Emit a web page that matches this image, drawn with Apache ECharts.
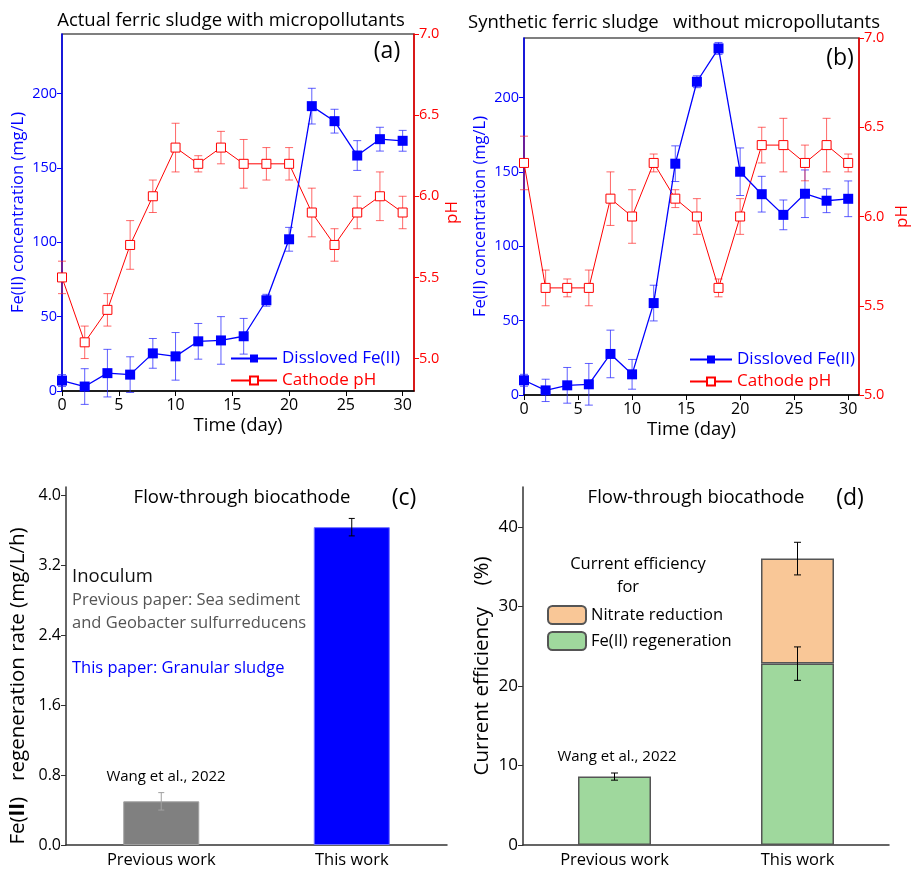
<!DOCTYPE html>
<html>
<head>
<meta charset="utf-8">
<script src="https://cdn.jsdelivr.net/npm/echarts@6/dist/echarts.min.js"></script>
<style>
  html, body { margin: 0; padding: 0; background: #fff; }
  #container { width: 912px; height: 869px; }
</style>
</head>
<body>
<div id="container"></div>
<script>
var dom = document.getElementById("container");
var myChart = echarts.init(dom);

// time axis (day)
var days = [0, 2, 4, 6, 8, 10, 12, 14, 16, 18, 20, 22, 24, 26, 28, 30];

// (a) actual ferric sludge
var feA = [7, 3, 12, 11, 25.3, 23.3, 33.4, 34, 36.8, 61, 102, 191.5, 181.4, 158.3, 169.3, 168.2];
var feAErr = [4, 12, 16, 12, 10, 16, 12, 16, 12, 4, 8, 12, 8, 10, 8, 7];
var phA = [5.5, 5.1, 5.3, 5.7, 6.0, 6.3, 6.2, 6.3, 6.2, 6.2, 6.2, 5.9, 5.7, 5.9, 6.0, 5.9];
var phAErr = [0.1, 0.1, 0.1, 0.15, 0.1, 0.15, 0.05, 0.1, 0.15, 0.1, 0.1, 0.15, 0.1, 0.1, 0.15, 0.1];

// (b) synthetic ferric sludge
var feB = [9.9, 3.1, 6.5, 7.2, 27.6, 13.9, 61.8, 155.5, 210.6, 233, 150.1, 135, 121.1, 135.3, 130.6, 131.9];
var feBErr = [4, 7.5, 12, 14, 16, 10, 12, 12, 4, 4, 16, 12, 10, 16, 8, 12];
var phB = [6.3, 5.6, 5.6, 5.6, 6.1, 6.0, 6.3, 6.1, 6.0, 5.6, 6.0, 6.4, 6.4, 6.3, 6.4, 6.3];
var phBErr = [0.15, 0.1, 0.05, 0.1, 0.15, 0.15, 0.05, 0.05, 0.1, 0.05, 0.1, 0.1, 0.15, 0.1, 0.15, 0.05];

// (c) and (d)
var groups = ["Previous work", "This work"];
var rate = [0.5, 3.64];
var rateErr = [0.1, 0.1];
var feRegen = [8.6, 22.8];
var feRegenErr = [0.45, 2.1];
var nitrate = [null, 13.2];
var totalCE = [null, 36.0];
var totalErr = [null, 2.05];

var font = "Open Sans";

function pairs(xs, ys) {
  return xs.map(function (x, i) { return [x, ys[i]]; });
}
function errData(xs, ys, es) {
  var out = [];
  xs.forEach(function (x, i) {
    if (ys[i] != null) out.push([x, ys[i], es[i]]);
  });
  return out;
}

function errorBars(capW, width) {
  return function (params, api) {
    var x = api.value(0), y = api.value(1), e = api.value(2);
    var hi = api.coord([x, y + e]);
    var lo = api.coord([x, y - e]);
    var style = { stroke: api.visual("color"), lineWidth: width || 1 };
    return {
      type: "group",
      children: [
        { type: "line", shape: { x1: hi[0], y1: hi[1], x2: lo[0], y2: lo[1] }, style: style },
        { type: "line", shape: { x1: hi[0] - capW, y1: hi[1], x2: hi[0] + capW, y2: hi[1] }, style: style },
        { type: "line", shape: { x1: lo[0] - capW, y1: lo[1], x2: lo[0] + capW, y2: lo[1] }, style: style }
      ]
    };
  };
}

function timeAxis(gi) {
  var ticks = [0, 5, 10, 15, 20, 25, 30];
  return {
    gridIndex: gi, type: "value", min: 0, max: 31,
    name: "Time (day)", nameLocation: "middle", nameGap: 25,
    nameTextStyle: { fontSize: 18.5, color: "#000" },
    axisLine: { lineStyle: { color: "#000", width: 1.5 } },
    axisTick: { length: 5, customValues: ticks, lineStyle: { color: "#000" } },
    axisLabel: { customValues: ticks, fontSize: 16, color: "#000", margin: 6 },
    splitLine: { show: false }
  };
}
function feAxis(gi) {
  var ticks = [0, 50, 100, 150, 200];
  return {
    gridIndex: gi, type: "value", min: 0, max: 240, position: "left",
    name: "Fe(II) concentration (mg/L)", nameLocation: "middle", nameGap: 35,
    nameTextStyle: { fontSize: 16.5, color: "#0000ff" },
    axisLine: { show: true, lineStyle: { color: "#0000ff", width: 1.5 } },
    axisTick: { show: true, length: 5, customValues: ticks },
    axisLabel: { customValues: ticks, fontSize: 14.5, color: "#0000ff", margin: 5 },
    splitLine: { show: false }
  };
}
function phAxis(gi, min, gap) {
  var ticks = [5.0, 5.5, 6.0, 6.5, 7.0];
  return {
    gridIndex: gi, type: "value", min: min, max: 7.0, position: "right",
    name: "pH", nameLocation: "middle", nameGap: gap, nameRotate: 90,
    nameTextStyle: { fontSize: 17, color: "#ff0000" },
    axisLine: { show: true, lineStyle: { color: "#ff0000", width: 1.5 } },
    axisTick: { show: true, length: 5, customValues: ticks },
    axisLabel: {
      customValues: ticks, fontSize: 14.5, color: "#ff0000", margin: 5,
      formatter: function (v) { return v.toFixed(1); }
    },
    splitLine: { show: false }
  };
}

function feLine(name, xi, yi, data) {
  return {
    name: name, type: "line", xAxisIndex: xi, yAxisIndex: yi, data: data,
    symbol: "rect", symbolSize: 10, z: 4,
    itemStyle: { color: "#0000ff" },
    lineStyle: { color: "#0000ff", width: 1.3 }
  };
}
function phLine(name, xi, yi, data) {
  return {
    name: name, type: "line", xAxisIndex: xi, yAxisIndex: yi, data: data,
    symbol: "rect", symbolSize: 9, z: 4,
    itemStyle: { color: "#ffffff", borderColor: "#ff0000", borderWidth: 1 },
    lineStyle: { color: "#ff0000", width: 1 }
  };
}
function errSeries(xi, yi, data, color, cap) {
  return {
    type: "custom", xAxisIndex: xi, yAxisIndex: yi, data: data, z: 3,
    renderItem: errorBars(cap), itemStyle: { color: color }, silent: true
  };
}

function txt(text, x, y, size, color, align) {
  return {
    type: "text", x: x, y: y,
    style: {
      text: text, fill: color || "#000", fontSize: size, fontFamily: font,
      align: align || "center", verticalAlign: "middle"
    }
  };
}

function lineLegend(left, top, w) {
  return {
    left: left, top: top, padding: 0, orient: "vertical",
    itemWidth: w, itemHeight: 10, itemGap: 5,
    data: [
      { name: "Dissloved Fe(II)", textStyle: { color: "#0000ff" } },
      { name: "Cathode pH", textStyle: { color: "#ff0000" } }
    ],
    textStyle: { fontSize: 17, fontFamily: font }
  };
}

var option = {
  textStyle: { fontFamily: font },
  animation: false,
  grid: [
    { left: 62, top: 34, width: 352, height: 357, show: true, borderColor: "#000", borderWidth: 1.2 },
    { left: 524, top: 38, width: 345, height: 357, show: true, borderColor: "#000", borderWidth: 1.2 },
    { left: 66, top: 487, width: 381, height: 359 },
    { left: 523, top: 487, width: 366, height: 359 }
  ],
  legend: [
    lineLegend(230, 350, 46),
    lineLegend(689, 351, 42),
    {
      left: 547, top: 605, padding: 0, orient: "vertical", itemWidth: 38, itemHeight: 18, itemGap: 6,
      data: ["Nitrate reduction", "Fe(II) regeneration"],
      textStyle: { fontSize: 16.5, fontFamily: font, color: "#000" }
    }
  ],
  xAxis: [
    timeAxis(0),
    timeAxis(1),
    {
      gridIndex: 2, type: "category", data: groups,
      axisLine: { lineStyle: { color: "#333", width: 1.5 } },
      axisTick: { alignWithLabel: true, length: 5, lineStyle: { color: "#333" } },
      axisLabel: { fontSize: 16.5, color: "#000", margin: 7 }
    },
    {
      gridIndex: 3, type: "category", data: groups,
      axisLine: { lineStyle: { color: "#333", width: 1.5 } },
      axisTick: { alignWithLabel: true, length: 5, lineStyle: { color: "#333" } },
      axisLabel: { fontSize: 16.5, color: "#000", margin: 7 }
    }
  ],
  yAxis: [
    feAxis(0),
    phAxis(0, 4.8, 30),
    feAxis(1),
    phAxis(1, 5.0, 35),
    {
      gridIndex: 2, type: "value", min: 0, max: 4.1,
      axisLine: { show: true, lineStyle: { color: "#333", width: 1.5 } },
      axisTick: { show: true, length: 5, customValues: [0, 0.8, 1.6, 2.4, 3.2, 4.0] },
      axisLabel: {
        customValues: [0, 0.8, 1.6, 2.4, 3.2, 4.0], fontSize: 16, color: "#000", margin: 5,
        formatter: function (v) { return v.toFixed(1); }
      },
      splitLine: { show: false }
    },
    {
      gridIndex: 3, type: "value", min: 0, max: 45,
      name: "Current efficiency    (%)", nameLocation: "middle", nameGap: 30,
      nameTextStyle: { fontSize: 20.5, color: "#000" },
      axisLine: { show: true, lineStyle: { color: "#333", width: 1.5 } },
      axisTick: { show: true, length: 5, customValues: [0, 10, 20, 30, 40] },
      axisLabel: { customValues: [0, 10, 20, 30, 40], fontSize: 17, color: "#000", margin: 5 },
      splitLine: { show: false }
    }
  ],
  series: [
    // (a)
    errSeries(0, 0, errData(days, feA, feAErr), "rgba(40,40,255,0.75)", 4),
    errSeries(0, 1, errData(days, phA, phAErr), "rgba(255,40,40,0.7)", 4),
    phLine("Cathode pH", 0, 1, pairs(days, phA)),
    feLine("Dissloved Fe(II)", 0, 0, pairs(days, feA)),
    // (b)
    errSeries(1, 2, errData(days, feB, feBErr), "rgba(40,40,255,0.75)", 4),
    errSeries(1, 3, errData(days, phB, phBErr), "rgba(255,40,40,0.7)", 4),
    phLine("Cathode pH", 1, 3, pairs(days, phB)),
    feLine("Dissloved Fe(II)", 1, 2, pairs(days, feB)),
    // (c)
    {
      type: "bar", xAxisIndex: 2, yAxisIndex: 4, barWidth: 76,
      data: [
        { value: rate[0], itemStyle: { color: "#808080", borderColor: "#a0a0a0", borderWidth: 1 } },
        { value: rate[1], itemStyle: { color: "#0000ff", borderColor: "#7070ff", borderWidth: 1 } }
      ]
    },
    {
      type: "custom", xAxisIndex: 2, yAxisIndex: 4, z: 5, silent: true,
      data: [
        { value: [0, rate[0], rateErr[0]], itemStyle: { color: "#a0a0a0" } },
        { value: [1, rate[1], rateErr[1]], itemStyle: { color: "#000" } }
      ],
      renderItem: errorBars(3)
    },
    // (d)
    {
      name: "Fe(II) regeneration", type: "bar", stack: "ce", xAxisIndex: 3, yAxisIndex: 5, barWidth: 73,
      data: feRegen,
      itemStyle: { color: "#9fd89d", borderColor: "#555", borderWidth: 1.5 }
    },
    {
      name: "Nitrate reduction", type: "bar", stack: "ce", xAxisIndex: 3, yAxisIndex: 5, barWidth: 73,
      data: nitrate,
      itemStyle: { color: "#f9c797", borderColor: "#555", borderWidth: 1.5 }
    },
    {
      type: "custom", xAxisIndex: 3, yAxisIndex: 5, z: 5, silent: true,
      data: errData([0, 1], feRegen, feRegenErr).concat(errData([0, 1], totalCE, totalErr)),
      itemStyle: { color: "#000" },
      renderItem: errorBars(3.5)
    }
  ],
  graphic: [
    txt("Actual ferric sludge with micropollutants", 231, 21, 18.5),
    txt("(a)", 387, 51, 23),
    txt("Synthetic ferric sludge   without micropollutants", 674, 23, 18.5),
    txt("(b)", 840, 58, 23),
    txt("Flow-through biocathode", 242, 498, 18.5),
    txt("(c)", 404, 498, 23),
    txt("Inoculum", 72, 577, 18.5, "#111", "left"),
    txt("Previous paper: Sea sediment", 72, 600, 16.5, "#555", "left"),
    txt("and Geobacter sulfurreducens", 72, 623, 16.5, "#555", "left"),
    txt("This paper: Granular sludge", 72, 668, 16.5, "#0000ff", "left"),
    txt("Wang et al., 2022", 166, 777, 15),
    txt("Flow-through biocathode", 696, 498, 18.5),
    txt("(d)", 850, 498, 23),
    txt("Current efficiency", 638, 564, 16.5),
    txt("for", 628, 587, 16.5),
    txt("Wang et al., 2022", 617, 757, 15),
    {
      type: "text", x: 18, y: 686, rotation: Math.PI / 2,
      style: {
        text: "{n|Fe(}{b|II}{n|)}   regeneration rate (mg/L/h)",
        fill: "#000", fontSize: 20.5, fontFamily: font, align: "center", verticalAlign: "middle",
        rich: {
          n: { fontSize: 20.5, fontFamily: font },
          b: { fontSize: 20.5, fontWeight: "bold", fontFamily: font }
        }
      }
    }
  ]
};

myChart.setOption(option);
</script>
</body>
</html>
